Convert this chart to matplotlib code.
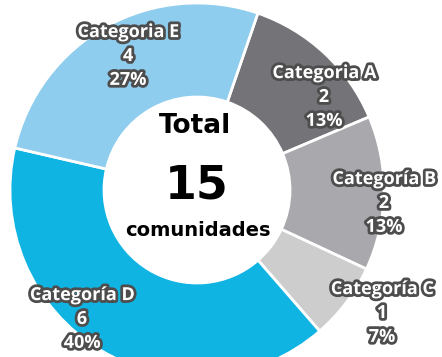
import matplotlib.pyplot as plt
import matplotlib.patheffects as pe

# datos de la gráfica
categorias = ['Categoria A', 'Categoría B', 'Categoría C', 'Categoría D', 'Categoria E']
comunidades = [2, 2, 1, 6, 4]
colores = ['#747377', '#a9a8ac', '#cdcdce', '#10b4e2', '#8fcdee']

# posición (en píxeles) de cada etiqueta
pos_etiquetas = [(324, 260), (384, 154), (382, 44), (82, 38), (128, 301)]

total = sum(comunidades)

fig = plt.figure(figsize=(4.42, 3.57), dpi=100)
ax = fig.add_axes([0, 0, 1, 1])

ax.pie(comunidades, colors=colores, startangle=71, counterclock=False,
       center=(197, 167), radius=187,
       wedgeprops=dict(width=94, edgecolor='white', linewidth=2))
ax.set_xlim(0, 442)
ax.set_ylim(0, 357)
ax.set_aspect('auto')
ax.axis('off')

contorno = [pe.withStroke(linewidth=4, foreground='#4d4d4d')]
for cat, n, (x, y) in zip(categorias, comunidades, pos_etiquetas):
    pct = round(n / total * 100)
    ax.text(x, y, f'{cat}\n{n}\n{pct}%', ha='center', va='center',
            fontsize=13, fontweight='bold', family='Open Sans',
            color='white', linespacing=1.42, path_effects=contorno)

# texto central
ax.text(195, 357 - 126, 'Total', ha='center', va='center',
        fontsize=19, fontweight='bold', color='black')
ax.text(197, 357 - 186, str(total), ha='center', va='center',
        fontsize=33, fontweight='bold', color='black')
ax.text(198, 357 - 230, 'comunidades', ha='center', va='center',
        fontsize=14, fontweight='bold', color='black')

plt.savefig('out.png', dpi=100)
